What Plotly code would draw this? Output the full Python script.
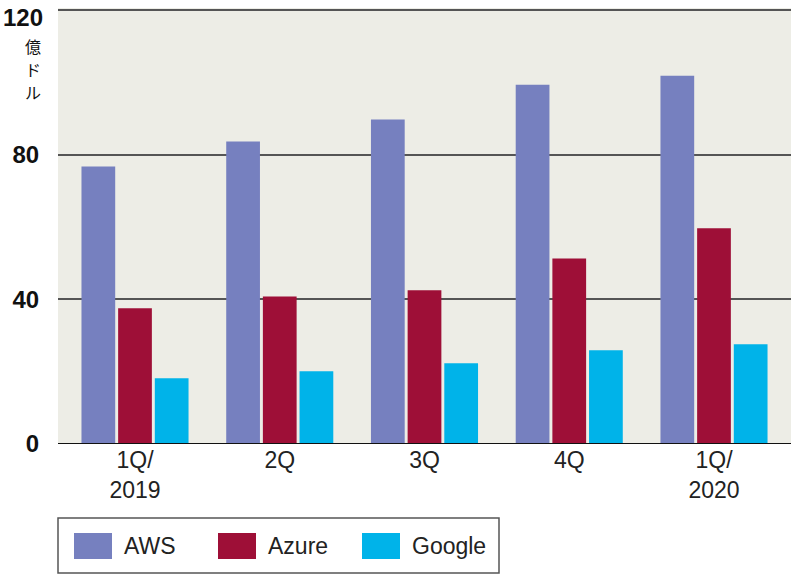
import plotly.graph_objects as go

categories = ["1Q/<br>2019", "2Q", "3Q", "4Q", "1Q/<br>2020"]
series_names = ["AWS", "Azure", "Google"]
aws = [76.7, 83.6, 89.7, 99.3, 101.8]
azure = [37.5, 40.8, 42.5, 51.3, 59.6]
google = [18.2, 20.1, 22.3, 25.9, 27.6]
colors = ["#7680BF", "#9E0F37", "#00B3E9"]
y_ticks = [0, 40, 80, 120]
y_ticktext = ["0", "40", "80", "120"]
unit_label = "億ドル"

W, H = 800, 584
L, R, T, B = 58, 9, 8, 140
PW, PH = W - L - R, H - T - B

TICK_FONT = dict(family="Liberation Sans, Arial, sans-serif", size=24, color="#111", weight="bold")


def px_x(px):
    return (px - L) / PW


def px_y(py):
    return (H - B - py) / PH


fig = go.Figure()
for name, vals, col in zip(series_names, [aws, azure, google], colors):
    fig.add_trace(go.Bar(x=categories, y=vals, name=name, marker_color=col,
                         marker_line_width=0, showlegend=False))

fig.update_layout(
    width=W, height=H,
    margin=dict(l=L, r=R, t=T, b=B, autoexpand=False),
    paper_bgcolor="white",
    plot_bgcolor="#EDEDE6",
    barmode="group",
    bargap=0.24,
    bargroupgap=0.08,
    xaxis=dict(
        type="category",
        range=[-0.532, 4.532],
        automargin=False,
        showgrid=False,
        ticks="",
        tickfont=dict(family="Liberation Sans, Arial, sans-serif", size=23, color="#222"),
        showline=False,
        zeroline=False,
    ),
    yaxis=dict(
        range=[0, 120.5],
        automargin=False,
        tickvals=y_ticks,
        ticktext=y_ticktext[:-1] + [""],
        showgrid=True,
        gridcolor="#555555",
        gridwidth=1.5,
        zeroline=False,
        showline=False,
        ticks="outside",
        ticklen=13,
        tickcolor="rgba(0,0,0,0)",
        tickfont=TICK_FONT,
    ),
)

# top tick label (drawn just below the top gridline, as in the reference)
fig.add_annotation(text=y_ticktext[-1], xref="paper", yref="paper", x=px_x(45), y=px_y(17),
                   xanchor="right", yanchor="middle", showarrow=False, font=TICK_FONT)

# zero baseline
fig.add_shape(type="line", xref="paper", yref="y", x0=0, x1=1, y0=0, y1=0,
              line=dict(color="#111", width=2))

# unit label (vertical)
for i, ch in enumerate(unit_label):
    fig.add_annotation(text=ch, xref="paper", yref="paper",
                       x=px_x(33), y=px_y(46 + i * 23), xanchor="center", yanchor="middle",
                       showarrow=False,
                       font=dict(family="Noto Sans CJK JP, sans-serif", size=16, color="#111"))

# legend box
fig.add_shape(type="rect", xref="paper", yref="paper",
              x0=px_x(58), x1=px_x(499), y0=px_y(518), y1=px_y(573),
              line=dict(color="#555", width=1.5), fillcolor="white")
for i, (name, col) in enumerate(zip(series_names, colors)):
    sx = 74 + i * 144
    fig.add_shape(type="rect", xref="paper", yref="paper",
                  x0=px_x(sx), x1=px_x(sx + 38), y0=px_y(533), y1=px_y(559),
                  line=dict(width=0), fillcolor=col)
    fig.add_annotation(text=name, xref="paper", yref="paper",
                       x=px_x(sx + 48), y=px_y(546), xanchor="left", yanchor="middle",
                       showarrow=False,
                       font=dict(family="Liberation Sans, Arial, sans-serif", size=23, color="#222"))

fig.write_html("out.html", config={"displayModeBar": False},
               post_script="document.body.style.margin='0';document.body.style.overflow='hidden';")
